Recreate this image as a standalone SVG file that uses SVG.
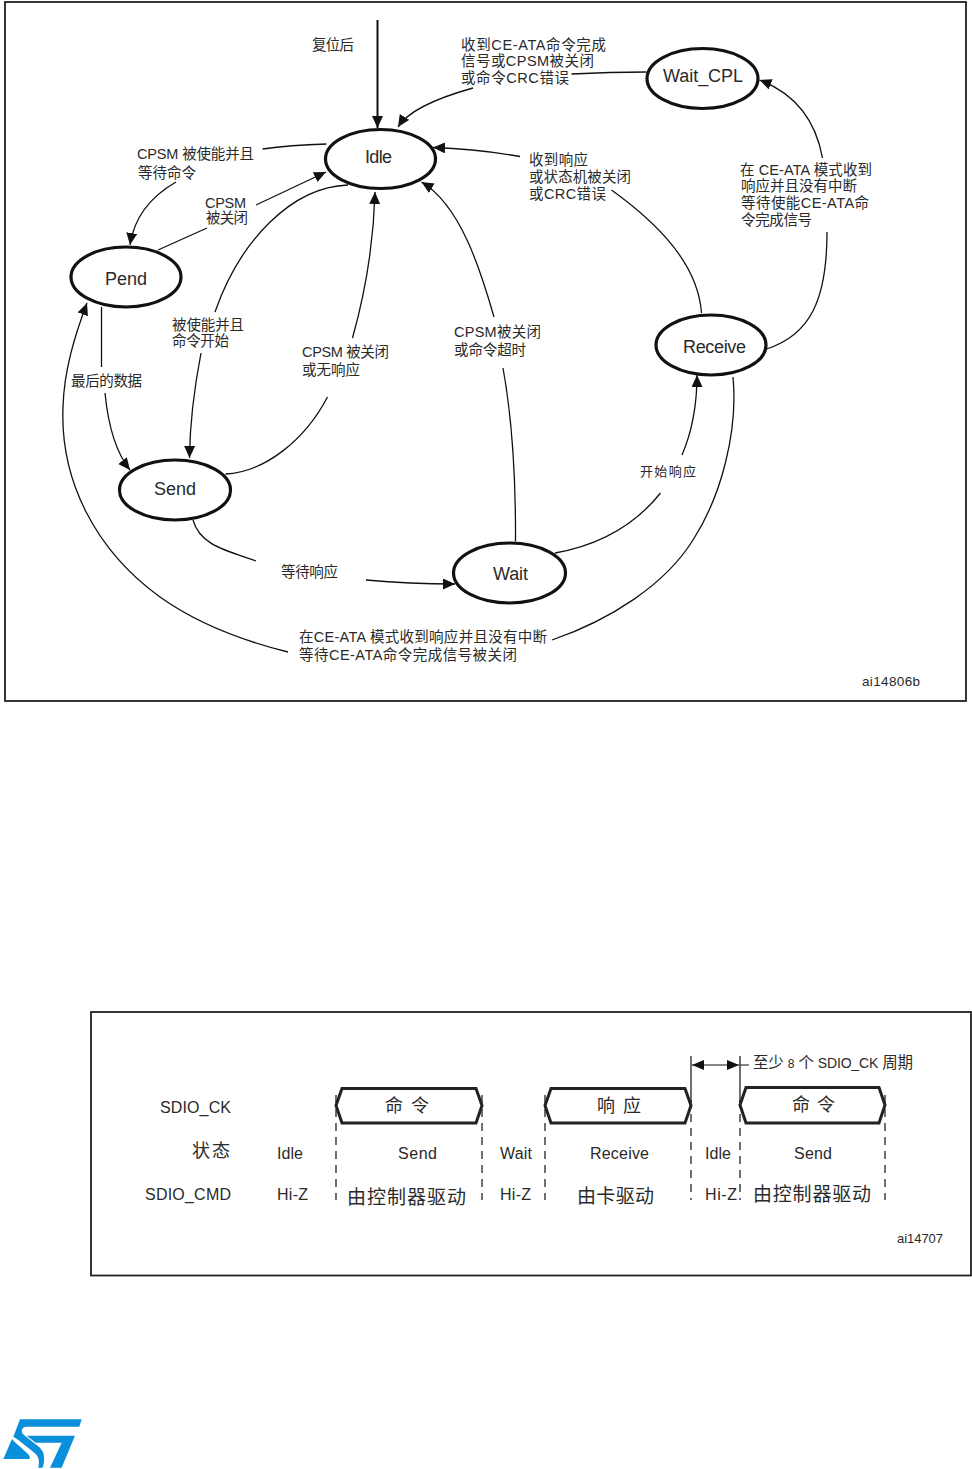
<svg xmlns="http://www.w3.org/2000/svg" width="972" height="1469" viewBox="0 0 972 1469">
<style>
text{font-family:"Liberation Sans","Noto Sans CJK SC",sans-serif;fill:#2a2a2a}
.l{font-size:14.500px}
.n{font-size:18px;text-anchor:start}
.t{font-size:16px}
.c{fill:none;stroke:#111;stroke-width:1.3}
.a{marker-end:url(#ah)}
.e{fill:#fff;stroke:#111;stroke-width:3.2}
.f{fill:#fff;stroke:#222;stroke-width:1.8}
.h{fill:#fff;stroke:#222;stroke-width:3}
.d{stroke:#111;stroke-width:1.2;stroke-dasharray:8 6;fill:none}
.s{stroke:#111;stroke-width:1.2;fill:none}
</style>
<defs>
<marker id="ah" markerUnits="userSpaceOnUse" markerWidth="15" markerHeight="13" refX="12" refY="5.500" orient="auto"><path d="M0 0L12 5.500L0 11Z" fill="#111"/></marker>
<marker id="tb" markerUnits="userSpaceOnUse" markerWidth="14" markerHeight="12" refX="12" refY="5" orient="auto-start-reverse"><path d="M0 0L12 5L0 10Z" fill="#111"/></marker>
</defs>
<rect id="frame-top" class="f" x="5" y="2" width="961" height="699"/>
<rect id="frame-bottom" class="f" x="91" y="1012" width="880" height="263.500"/>

<g id="connectors">
<path class="c a" style="stroke-width:2" d="M377.500 20V128"/>
<path class="c" d="M646.500 72Q610 72 571.500 74"/>
<path class="c a" d="M473 88Q412 105 398 127"/>
<path class="c" d="M326.500 144Q290 145 262.500 149"/>
<path class="c a" d="M176 182Q136 205 130 245"/>
<path class="c" d="M158 250L207 228"/>
<path class="c a" d="M256 205L326 172"/>
<path class="c" d="M348 185C292 187 240 240 215 312"/>
<path class="c a" d="M201 353Q190 410 189.500 458"/>
<path class="c" d="M225.500 474C265 472 305 440 327.500 397"/>
<path class="c a" d="M352.500 338Q373 265 375 192"/>
<path class="c" d="M515.500 541.500Q516 440 503 368"/>
<path class="c a" d="M494 317C480 268 460 205 421.500 182"/>
<path class="c" d="M701.500 313C698 265 660 225 611.500 190"/>
<path class="c a" d="M520 156.500Q478 149 433 147.500"/>
<path class="c" d="M766.500 349C810 335 827 300 827 232"/>
<path class="c a" d="M822.500 158Q812 100 759.500 80"/>
<path class="c" d="M101.500 307V367"/>
<path class="c a" d="M105 393Q110 445 130 470"/>
<path class="c" d="M733 377C738 430 722 495 693 540C665 585 610 620 552 640"/>
<path class="c a" d="M288 652C240 640 195 622 160 597C95 550 60 480 63 407C64 370 75 335 87 303"/>
<path class="c" d="M193 520C200 545 225 550 256 561"/>
<path class="c a" d="M366 580Q410 584 455 584"/>
<path class="c" d="M555 553C600 545 635 525 660.500 493"/>
<path class="c a" d="M682 455Q697 420 697 375"/>
</g>

<g id="idle"><ellipse class="e" cx="380.500" cy="159" rx="55" ry="29.500"/><text class="n" x="365" y="163" textLength="27">Idle</text></g>
<g id="pend"><ellipse class="e" cx="126" cy="277" rx="55" ry="30"/><text class="n" x="105" y="285" textLength="42">Pend</text></g>
<g id="wait_cpl"><ellipse class="e" cx="702.500" cy="78.500" rx="55.500" ry="30"/><text class="n" x="663" y="82" textLength="80">Wait_CPL</text></g>
<g id="receive"><ellipse class="e" cx="711" cy="345" rx="55" ry="30"/><text class="n" x="683" y="353" textLength="63">Receive</text></g>
<g id="send"><ellipse class="e" cx="175" cy="490" rx="55.500" ry="30"/><text class="n" x="154" y="495" textLength="42">Send</text></g>
<g id="wait"><ellipse class="e" cx="509.500" cy="573" rx="56" ry="30"/><text class="n" x="493" y="580" textLength="35">Wait</text></g>

<g id="labels-top" class="l">
<text x="312" y="50" textLength="42">复位后</text>
<text x="461" y="50" textLength="145">收到CE-ATA命令完成</text>
<text x="461" y="66" textLength="133">信号或CPSM被关闭</text>
<text x="461" y="83" textLength="108">或命令CRC错误</text>
<text x="137" y="159" textLength="117">CPSM 被使能并且</text>
<text x="138" y="178" textLength="58">等待命令</text>
<text x="205" y="208" textLength="41">CPSM</text>
<text x="206" y="223" textLength="42">被关闭</text>
<text x="529" y="165" textLength="59">收到响应</text>
<text x="529" y="182" textLength="102">或状态机被关闭</text>
<text x="529" y="199" textLength="77">或CRC错误</text>
<text x="740" y="175" textLength="132">在 CE-ATA 模式收到</text>
<text x="741" y="191" textLength="116">响应并且没有中断</text>
<text x="741" y="208" textLength="128">等待使能CE-ATA命</text>
<text x="741" y="225" textLength="71">令完成信号</text>
<text x="172" y="330" textLength="72">被使能并且</text>
<text x="172" y="346" textLength="57">命令开始</text>
<text x="302" y="357" textLength="87">CPSM 被关闭</text>
<text x="302" y="375" textLength="58">或无响应</text>
<text x="454" y="337" textLength="87">CPSM被关闭</text>
<text x="454" y="355" textLength="72">或命令超时</text>
<text x="71" y="386" textLength="71">最后的数据</text>
<text x="640" y="476" textLength="56" style="font-size:13px">开始响应</text>
<text x="281" y="577" textLength="57">等待响应</text>
<text x="299" y="642" textLength="248">在CE-ATA 模式收到响应并且没有中断</text>
<text x="299" y="660" textLength="218">等待CE-ATA命令完成信号被关闭</text>
<text x="862" y="686" textLength="58" style="font-size:13.500px">ai14806b</text>
</g>

<g id="timing-connectors">
<path class="d" d="M336 1095V1200M482 1095V1200M545 1095V1200M691 1100V1200M740 1100V1200M885 1095V1200"/>
<path class="s" d="M691 1056V1102M740 1056V1102M740 1065H749"/>
<path class="s" d="M692 1065H739" marker-start="url(#tb)" marker-end="url(#tb)"/>
</g>
<g id="cmd1"><path class="h" d="M336 1105.500L342 1088.500H476L482 1105.500L476 1123H342Z"/><text class="t" x="385" y="1112" textLength="44" style="font-size:18px">命 令</text></g>
<g id="resp"><path class="h" d="M545 1105.500L551 1088.500H685L691 1105.500L685 1123H551Z"/><text class="t" x="597" y="1112" textLength="44" style="font-size:18px">响 应</text></g>
<g id="cmd2"><path class="h" d="M740 1105L746 1087.500H879L885 1105L879 1123H746Z"/><text class="t" x="792" y="1111" textLength="43" style="font-size:18px">命 令</text></g>
<g id="labels-bottom" class="t">
<text x="753" y="1068" textLength="160" style="font-size:15.500px">至少 <tspan style="font-size:12px">8</tspan> 个 <tspan style="font-size:14px">SDIO_CK</tspan> 周期</text>
<text x="160" y="1113" textLength="71">SDIO_CK</text>
<text x="192" y="1157" textLength="38" style="font-size:18px">状态</text>
<text x="145" y="1200" textLength="86">SDIO_CMD</text>
<text x="277" y="1159" textLength="26">Idle</text>
<text x="398" y="1159" textLength="39">Send</text>
<text x="500" y="1159" textLength="32">Wait</text>
<text x="590" y="1159" textLength="59">Receive</text>
<text x="705" y="1159" textLength="26">Idle</text>
<text x="794" y="1159" textLength="38">Send</text>
<text x="277" y="1200" textLength="31">Hi-Z</text>
<text x="500" y="1200" textLength="31">Hi-Z</text>
<text x="705" y="1200" textLength="32">Hi-Z</text>
<text x="347" y="1204" textLength="119" style="font-size:19px">由控制器驱动</text>
<text x="577" y="1203" textLength="77" style="font-size:19px">由卡驱动</text>
<text x="753" y="1201" textLength="118" style="font-size:19px">由控制器驱动</text>
<text x="897" y="1243" textLength="46" style="font-size:13px">ai14707</text>
</g>
<g id="logo" fill="#0a8fdc" transform="translate(0 1415) scale(.3333)">
<path d="M60 13H245L238 35H82Q66 35 65 48Q65 55 72 60L120 98Q140 118 128 158H115Q122 130 105 115L55 75L40 65Z"/>
<path d="M36 72L10 132H88Q92 125 85 118L45 82Z"/>
<path d="M80 62H225L185 158H150L185 83H107Z"/>
</g>
</svg>
